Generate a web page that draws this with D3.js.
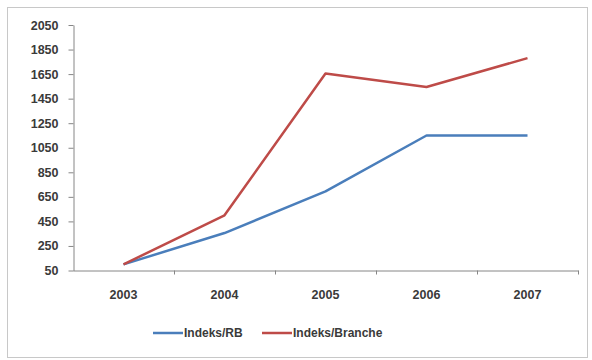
<!DOCTYPE html>
<html>
<head>
<meta charset="utf-8">
<script src="https://cdn.jsdelivr.net/npm/d3@7"></script>
<style>
  body { margin: 0; background: #fff; }
  text { font-family: "Liberation Sans", Arial, sans-serif; font-weight: bold; fill: #3a3a3a; }
</style>
</head>
<body>
<div class="container"></div>
<script>
const w = 592
const h = 360
const years = ["2003","2004","2005","2006","2007"]
const indeksRB = [100, 355, 695, 1150, 1150]
const indeksBranche = [100, 500, 1655, 1545, 1780]
const yTicks = [50,250,450,650,850,1050,1250,1450,1650,1850,2050]
const seriesNames = ["Indeks/RB", "Indeks/Branche"]
const colors = ["#4a7ebb", "#be4b48"]

const svg = d3.select(".container")
              .append("svg")
              .attr("width", w)
              .attr("height", h)

// chart frame
svg.append("rect")
    .attr("x", 7.5)
    .attr("y", 7.5)
    .attr("width", 580)
    .attr("height", 350)
    .attr("fill", "#fff")
    .attr("stroke", "#c8c8c8")

const xScale = d3.scaleBand()
                .domain(years)
                .range([73, 578])

const yScale = d3.scaleLinear()
                .domain([50, 2050])
                .range([270.5, 25])

const xAxis = d3.axisBottom(xScale)
                .tickSize(0)
                .tickPadding(20)

const yAxis = d3.axisLeft(yScale)
                .tickValues(yTicks)
                .tickFormat(d3.format("d"))
                .tickSize(5)
                .tickPadding(10)
                .tickSizeOuter(0)

const gy = svg.append("g")
    .attr("transform", "translate(73.5, 0)")
    .call(yAxis)
gy.selectAll("path, line").attr("stroke", "#868686")
gy.selectAll("text").style("font-size", "12.5px")

const gx = svg.append("g")
    .attr("transform", "translate(0, 270.5)")
    .call(xAxis)
gx.select("path").attr("stroke", "#868686")
gx.selectAll("text").style("font-size", "12.5px")

// tick marks between categories
gx.selectAll("line.sep")
    .data(years.slice(1).concat(["end"]))
    .enter()
    .append("line")
      .attr("class", "sep")
      .attr("x1", (d, i) => Math.round(xScale(years[i]) + xScale.bandwidth()) + 0.5)
      .attr("x2", (d, i) => Math.round(xScale(years[i]) + xScale.bandwidth()) + 0.5)
      .attr("y1", 0)
      .attr("y2", 4)
      .attr("stroke", "#868686")

const line = d3.line()
               .x((d, i) => xScale(years[i]) + xScale.bandwidth() / 2)
               .y(d => yScale(d))

;[indeksRB, indeksBranche].forEach((series, k) => {
  svg.append("path")
      .datum(series)
      .attr("d", line)
      .attr("fill", "none")
      .attr("stroke", colors[k])
      .attr("stroke-width", 2.5)
      .attr("stroke-linejoin", "round")
})

// legend
const legendX = [153, 262]
const legend = svg.append("g")
legend.selectAll("line")
    .data(seriesNames)
    .enter()
    .append("line")
      .attr("x1", (d, i) => legendX[i])
      .attr("x2", (d, i) => legendX[i] + 30)
      .attr("y1", 333)
      .attr("y2", 333)
      .attr("stroke", (d, i) => colors[i])
      .attr("stroke-width", 2.5)
legend.selectAll("text")
    .data(seriesNames)
    .enter()
    .append("text")
      .attr("x", (d, i) => legendX[i] + 31)
      .attr("y", 337)
      .style("font-size", "12px")
      .text(d => d)
</script>
</body>
</html>
